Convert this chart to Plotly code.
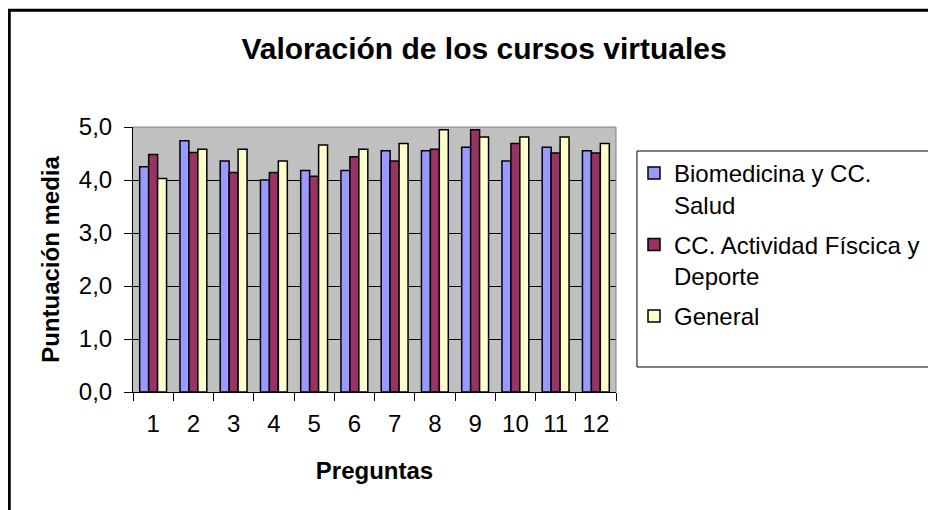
import plotly.graph_objects as go

preguntas = ["1", "2", "3", "4", "5", "6", "7", "8", "9", "10", "11", "12"]
biomedicina = [4.25, 4.74, 4.36, 4.00, 4.18, 4.18, 4.55, 4.55, 4.62, 4.36, 4.62, 4.55]
actividad = [4.48, 4.52, 4.14, 4.14, 4.07, 4.44, 4.36, 4.58, 4.95, 4.69, 4.51, 4.51]
general = [4.03, 4.58, 4.58, 4.36, 4.66, 4.58, 4.69, 4.95, 4.81, 4.81, 4.81, 4.69]

series_names = ["Biomedicina y CC.<br>Salud", "CC. Actividad Físcica y<br>Deporte", "General"]
series_colors = ["#9999FF", "#993366", "#FFFFCC"]
series_values = [biomedicina, actividad, general]

FONT = "Arial, Liberation Sans, sans-serif"

fig = go.Figure()
for i, (name, color, vals) in enumerate(zip(series_names, series_colors, series_values)):
    fig.add_trace(go.Bar(
        x=preguntas, y=vals, name=name, legendgroup=f"g{i}",
        marker=dict(color=color, line=dict(color="black", width=1.5)),
    ))

W, H = 928, 502
L, T = 125, 119
R = W - 609
B = H - 384
pw, ph = W - L - R, H - T - B

def px_x(px):
    return (px - L) / pw

def px_y(py):
    return (H - B - py) / ph

fig.update_layout(
    width=W, height=H,
    margin=dict(l=L, r=R, t=T, b=B, pad=0),
    paper_bgcolor="white",
    plot_bgcolor="#C0C0C0",
    barmode="group",
    bargap=0.333,
    bargroupgap=0,
    separators=",.",
    font=dict(family=FONT, color="black", size=24),
    title=dict(
        text="<b>Valoración de los cursos virtuales</b>",
        x=476 / W, xanchor="center", xref="container",
        y=1 - 40 / H, yanchor="middle", yref="container",
        font=dict(family=FONT, size=30, color="black"),
    ),
    xaxis=dict(
        type="category",
        showgrid=False,
        showline=True, linecolor="black", linewidth=1,
        ticks="outside", ticklen=8, tickcolor="black", tickwidth=1,
        tickson="boundaries",
        ticklabelstandoff=10,
        tickfont=dict(size=24),
        title=dict(text="<b>Preguntas</b>", font=dict(size=24), standoff=26),
    ),
    yaxis=dict(
        range=[0, 5],
        dtick=1,
        tickformat=".1f",
        showgrid=True, gridcolor="black", gridwidth=1,
        showline=True, linecolor="black", linewidth=1,
        ticks="outside", ticklen=8, tickcolor="black", tickwidth=1,
        ticklabelstandoff=7,
        tickfont=dict(size=24),
        zeroline=False,
        title=dict(text="<b>Puntuación media</b>", font=dict(size=24), standoff=12),
    ),
    legend=dict(
        x=px_x(626), xanchor="left",
        y=px_y(143), yanchor="top",
        bgcolor="rgba(0,0,0,0)",
        borderwidth=0,
        font=dict(family=FONT, size=24, color="black"),
        valign="top",
        tracegroupgap=6,
    ),
    showlegend=True,
    shapes=[
        dict(type="line", xref="paper", yref="paper", x0=0, x1=1, y0=1, y1=1,
             line=dict(color="#808080", width=1)),
        dict(type="line", xref="paper", yref="paper", x0=1, x1=1, y0=0, y1=1,
             line=dict(color="#808080", width=1)),
        dict(type="rect", xref="paper", yref="paper",
             x0=px_x(630), x1=px_x(990), y0=px_y(359), y1=px_y(143),
             line=dict(color="black", width=1), layer="below"),
        dict(type="rect", xref="paper", yref="paper",
             x0=px_x(1), x1=px_x(1000), y0=px_y(600), y1=px_y(2.3),
             line=dict(color="black", width=3), layer="below"),
    ],
)

fig.write_html("out.html")
